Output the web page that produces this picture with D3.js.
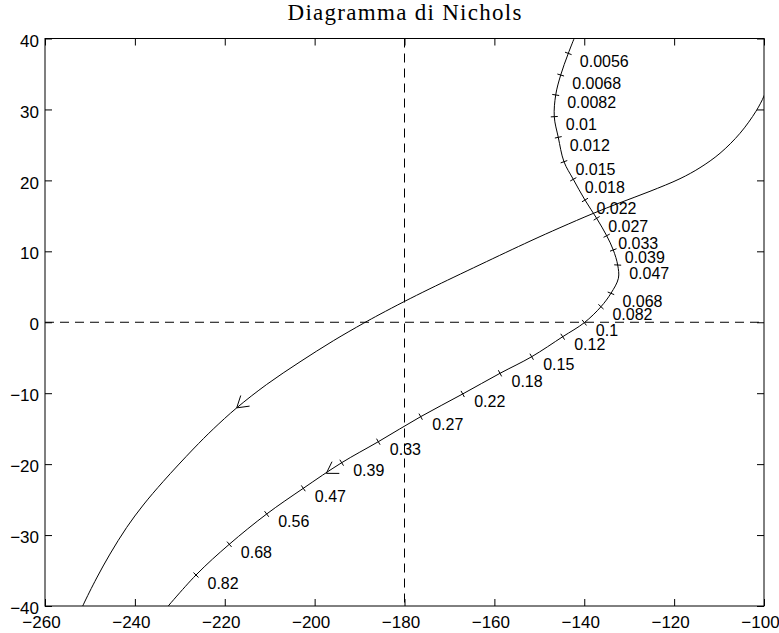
<!DOCTYPE html>
<html lang="it">
<head>
<meta charset="utf-8">
<script src="https://d3js.org/d3.v7.min.js"></script>
<style>
  body { margin: 0; background: #fff; }
  text { font-family: "Liberation Sans", Arial, sans-serif; }
</style>
</head>
<body>
<script>
// data (phase in deg, gain in dB)
var xTicks = [-260, -240, -220, -200, -180, -160, -140, -120, -100];
var yTicks = [-40, -30, -20, -10, 0, 10, 20, 30, 40];

// first curve (no frequency marks), from the right edge down to the bottom
var curve1Phase = [-99.4, -100.0, -101.78, -105.34, -109.79, -114.24, -118.69, -125.37, -132.04,
  -138.05, -145.40, -152.07, -163.20, -174.33, -180.11, -185.45, -189.17, -195.84, -203.25,
  -210.67, -217.34, -222.55, -227.0, -233.67, -238.13, -241.82, -245.54, -248.5, -251.48, -252.4];
var curve1Gain = [33.0, 31.89, 29.75, 26.64, 23.82, 21.79, 20.24, 18.46, 16.85,
  15.33, 13.33, 11.43, 8.11, 4.73, 2.9, 1.13, -0.16, -2.61, -5.58,
  -8.77, -12.07, -15.05, -17.87, -22.43, -25.76, -28.92, -32.68, -36.05, -39.83, -41.2];

// second curve with frequency marks (rad/s)
var freqLabels = ["0.0056", "0.0068", "0.0082", "0.01", "0.012", "0.015", "0.018", "0.022", "0.027",
  "0.033", "0.039", "0.047", "0.068", "0.082", "0.1", "0.12", "0.15", "0.18", "0.22", "0.27",
  "0.33", "0.39", "0.47", "0.56", "0.68", "0.82"];
var freqPhase = [-143.55, -145.24, -146.35, -146.67, -145.78, -144.51, -142.44, -139.84, -137.24,
  -135.01, -133.54, -132.56, -134.06, -136.28, -139.99, -144.8, -151.7, -158.75, -167.05, -176.4,
  -185.83, -193.98, -202.52, -210.67, -218.99, -226.4];
var freqGain = [37.9, 34.85, 32.04, 28.98, 26.07, 22.63, 20.15, 17.23, 14.65,
  12.2, 10.19, 8.07, 4.08, 2.19, -0.06, -2.04, -4.86, -7.2, -10.11, -13.31,
  -16.84, -19.8, -23.41, -27.03, -31.3, -35.63];
// extra points of the second curve: ends beyond the frame and the nose
var curve2Start = [-141.3, 41.5];
var curve2Nose = [-132.4, 6.2];
var curve2End = [-234.2, -41.2];

// arrow tips (direction of increasing frequency)
var arrowPhase = [-217.34, -197.4];
var arrowGain = [-12.07, -21.3];

var width = 779, height = 633;
var margin = {left: 45, right: 15, top: 38.5, bottom: 27};

var svg = d3.select('body').append('svg').attr('width', width).attr('height', height);

var x = d3.scaleLinear().domain([-260, -100]).range([margin.left, width - margin.right]);
var y = d3.scaleLinear().domain([-40, 40]).range([height - margin.bottom, margin.top]);

// title
svg.append('text')
  .attr('x', (x(-260) + x(-100)) / 2).attr('y', 20)
  .attr('text-anchor', 'middle')
  .attr('textLength', 234).attr('lengthAdjust', 'spacing')
  .style('font-family', '"Liberation Serif", "DejaVu Serif", serif')
  .style('font-size', '23px')
  .text('Diagramma di Nichols');

function fmt(d) { return d < 0 ? '\u2212' + Math.abs(d) : String(d); }

// axes, ticks pointing inward on all sides
var bottomAxis = d3.axisBottom(x).tickValues(xTicks).tickSizeInner(-7).tickSizeOuter(0).tickPadding(10).tickFormat(fmt);
var leftAxis = d3.axisLeft(y).tickValues(yTicks).tickSizeInner(-7).tickSizeOuter(0).tickPadding(6).tickFormat(fmt);
var topAxis = d3.axisTop(x).tickValues(xTicks).tickSizeInner(-7).tickSizeOuter(0).tickFormat('');
var rightAxis = d3.axisRight(y).tickValues(yTicks).tickSizeInner(-7).tickSizeOuter(0).tickFormat('');

function styleAxis(g) {
  g.select('.domain').remove();
  g.selectAll('.tick line').attr('stroke', '#000');
  g.selectAll('.tick text').style('font-size', '17px').style('font-family', '"Liberation Sans", Arial, sans-serif').attr('fill', '#000');
}

svg.append('g').attr('transform', 'translate(0,' + y(-40) + ')').call(bottomAxis).call(styleAxis)
  .selectAll('.tick text').attr('dx', -4);
svg.append('g').attr('transform', 'translate(' + x(-260) + ',0)').call(leftAxis).call(styleAxis)
  .selectAll('.tick text').attr('dy', '0.45em');
svg.append('g').attr('transform', 'translate(0,' + y(40) + ')').call(topAxis).call(styleAxis);
svg.append('g').attr('transform', 'translate(' + x(-100) + ',0)').call(rightAxis).call(styleAxis);

// dashed reference lines
svg.append('line')
  .attr('x1', x(-180)).attr('x2', x(-180)).attr('y1', y(40)).attr('y2', y(-40))
  .attr('stroke', '#000').attr('stroke-dasharray', '9,6');
svg.append('line')
  .attr('x1', x(-260)).attr('x2', x(-100)).attr('y1', y(0)).attr('y2', y(0))
  .attr('stroke', '#000').attr('stroke-dasharray', '9,6');

svg.append('clipPath').attr('id', 'plotclip')
  .append('rect')
  .attr('x', x(-260)).attr('y', y(40))
  .attr('width', x(-100) - x(-260)).attr('height', y(-40) - y(40));

var plot = svg.append('g').attr('clip-path', 'url(#plotclip)');

var line = d3.line()
  .x(function(d) { return x(d[0]); })
  .y(function(d) { return y(d[1]); })
  .curve(d3.curveCatmullRom.alpha(0.5));

var curve1 = curve1Phase.map(function(p, i) { return [p, curve1Gain[i]]; });

var marks = freqPhase.map(function(p, i) { return [p, freqGain[i]]; });
var noseAt = freqLabels.indexOf('0.047') + 1;
var curve2 = [curve2Start].concat(marks.slice(0, noseAt), [curve2Nose], marks.slice(noseAt), [curve2End]);

[curve1, curve2].forEach(function(c) {
  plot.append('path').datum(c)
    .attr('d', line)
    .attr('fill', 'none')
    .attr('stroke', '#000')
    .attr('stroke-width', 1);
});

// small cross marks on the second curve, perpendicular to it
marks.forEach(function(m, i) {
  var a = i > 0 ? marks[i - 1] : curve2Start;
  var b = i < marks.length - 1 ? marks[i + 1] : curve2End;
  var dx = x(b[0]) - x(a[0]), dy = y(b[1]) - y(a[1]);
  var len = Math.sqrt(dx * dx + dy * dy);
  var nx = -dy / len * 3.5, ny = dx / len * 3.5;
  var px = x(m[0]), py = y(m[1]);
  plot.append('line')
    .attr('x1', px - nx).attr('y1', py - ny)
    .attr('x2', px + nx).attr('y2', py + ny)
    .attr('stroke', '#000');
  svg.append('text')
    .attr('x', px + 11.5).attr('y', py + 13.5)
    .style('font-size', '16px')
    .text(freqLabels[i]);
});

// open arrow heads
function nearestDir(c, p) {
  var best = 0, bd = Infinity;
  c.forEach(function(q, i) {
    var d = Math.abs(x(q[0]) - x(p[0])) + Math.abs(y(q[1]) - y(p[1]));
    if (d < bd) { bd = d; best = i; }
  });
  var a = c[Math.max(best - 1, 0)], b = c[Math.min(best + 1, c.length - 1)];
  return Math.atan2(y(a[1]) - y(b[1]), x(a[0]) - x(b[0]));
}

[curve1, curve2].forEach(function(c, k) {
  var tip = [arrowPhase[k], arrowGain[k]];
  var back = nearestDir(c, tip);
  var tx = x(tip[0]), ty = y(tip[1]);
  [-0.56, 0.56].forEach(function(da) {
    plot.append('line')
      .attr('x1', tx).attr('y1', ty)
      .attr('x2', tx + 13 * Math.cos(back + da))
      .attr('y2', ty + 13 * Math.sin(back + da))
      .attr('stroke', '#000');
  });
});

// frame
svg.append('rect')
  .attr('x', x(-260)).attr('y', y(40))
  .attr('width', x(-100) - x(-260)).attr('height', y(-40) - y(40))
  .attr('fill', 'none').attr('stroke', '#000');
</script>
</body>
</html>
